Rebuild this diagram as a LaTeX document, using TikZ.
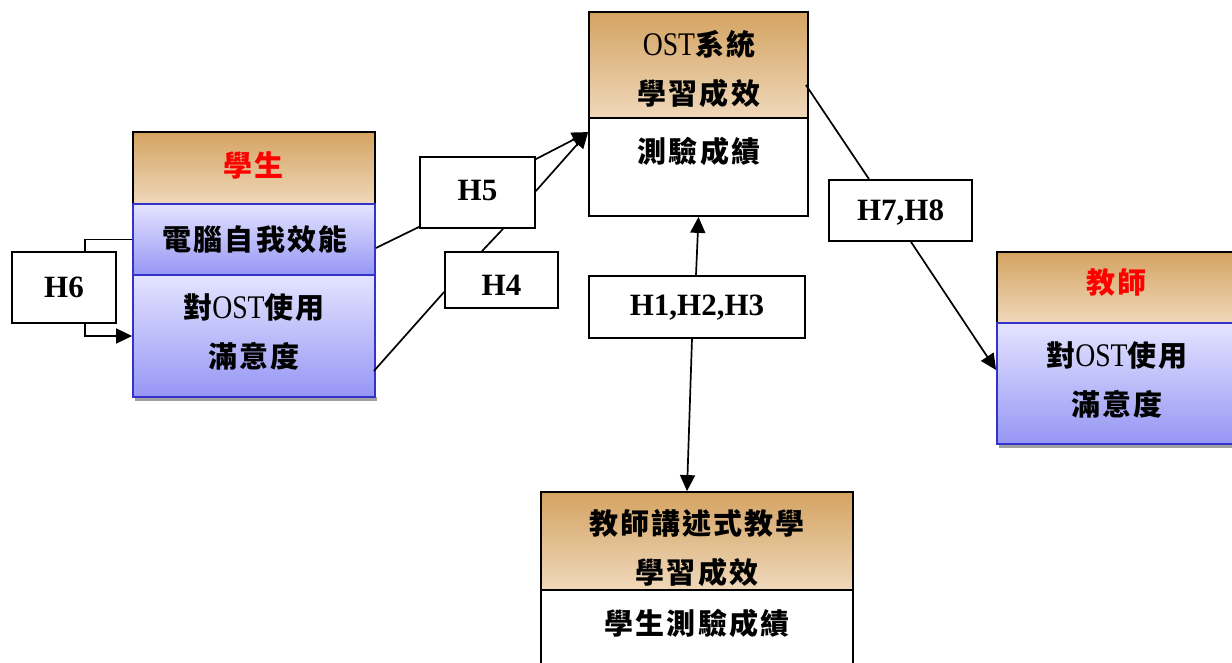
\documentclass[tikz,border=0pt]{standalone}
\usepackage{fontspec}
\setmainfont{Liberation Serif}
\newfontfamily\cjk[LetterSpace=7]{Noto Sans CJK TC}
\usetikzlibrary{arrows.meta,calc}
\definecolor{hdtop}{RGB}{212,163,98}
\definecolor{hdbot}{RGB}{239,216,186}
\definecolor{bltop}{RGB}{228,228,255}
\definecolor{blbot}{RGB}{150,150,245}
\definecolor{blborder}{RGB}{51,51,204}
\definecolor{shadowgray}{RGB}{160,160,160}
\newcommand{\ost}{{\rmfamily\mdseries\fontsize{33}{48}\selectfont\scalebox{0.84}[1]{OST}}}
\newcommand{\shiftlbl}[2]{\raisebox{#1}[\height][\depth]{#2}}
\tikzset{
  cjkfont/.style={font=\cjk\bfseries\fontsize{29}{49}\selectfont},
  hdrbox/.style={rectangle, draw=black, line width=1.8pt, inner sep=0pt,
    top color=hdtop, bottom color=hdbot},
  blbox/.style={rectangle, draw=blborder, line width=1.8pt, inner sep=0pt,
    top color=bltop, bottom color=blbot},
  whbox/.style={rectangle, draw=black, line width=1.8pt, inner sep=0pt, fill=white},
  hbox/.style={rectangle, draw=black, line width=1.8pt, inner sep=0pt, fill=white,
    font=\bfseries\fontsize{31}{36}\selectfont},
  lbl/.style={cjkfont, inner sep=0pt, align=center},
  conn/.style={line width=1.7pt},
  arr/.style={conn, -{Triangle[length=16pt,width=15pt]}}
}
\begin{document}
\begin{tikzpicture}[x=1pt,y=-1pt]
\useasboundingbox (0,0) rectangle (1232,663);
% shadows
\fill[shadowgray] (135,397) rectangle (377,401);
\fill[shadowgray] (999,444) rectangle (1232,448);
% student
\node[hdrbox, minimum width=242, minimum height=72] (stuH) at (254,168) {};
\node[blbox, minimum width=242, minimum height=71] (stuA) at (254,239.5) {};
\node[blbox, minimum width=242, minimum height=122] (stuB) at (254,336) {};
\node[lbl, text=red] (stuHt) at (254,165) {學生};
\node[lbl] (stuAt) at (255,239) {電腦自我效能};
\node[lbl] (stuBt) at (254,331.5) {對\ost 使用\\滿意度};
% OST
\node[hdrbox, minimum width=219, minimum height=106] (ostH) at (698.5,65) {};
\node[whbox, minimum width=219, minimum height=98] (ostB) at (698.5,167) {};
\node[lbl] (ostHt) at (699,69) {\ost 系統\\學習成效};
\node[lbl] (ostT) at (699,151) {測驗成績};
% teacher
\node[hdrbox, minimum width=240, minimum height=71] (teaH) at (1117,287.5) {};
\node[blbox, minimum width=240, minimum height=121] (teaB) at (1117,383.5) {};
\node[lbl, text=red] (teaHt) at (1117,283) {教師};
\node[lbl] (teaBt) at (1117,380) {對\ost 使用\\滿意度};
% bottom
\node[hdrbox, minimum width=312, minimum height=98] (botH) at (697,541) {};
\node[whbox, minimum width=312, minimum height=90] (botB) at (697,635) {};
\node[lbl] (botHt) at (697,548.5) {教師講述式教學\\學習成效};
\node[lbl] (botT) at (697,623) {學生測驗成績};
% H boxes
\node[hbox, minimum width=115, minimum height=71] (h5) at (477.5,192.5) {\shiftlbl{2pt}{H5}};
\node[hbox, minimum width=113, minimum height=56] (h4) at (501.5,280) {\shiftlbl{-5pt}{H4}};
\node[hbox, minimum width=104, minimum height=71] (h6) at (64,287.5) {H6};
\node[hbox, minimum width=216, minimum height=62] (h123) at (697,307) {\shiftlbl{-1pt}{H1,H2,H3}};
\node[hbox, minimum width=143, minimum height=61] (h78) at (900.5,210.5) {\shiftlbl{-2pt}{H7,H8}};
% connectors
\draw[conn] ($(stuA.east)+(0,8.5)$) -- ($(h5.south west)+(0,-2)$);
\draw[arr] ($(h5.north east)+(0,3)$) -- ($(ostB.north west)+(0,15)$);
\draw[conn] ($(stuB.east)+(-2,35)$) -- ($(h4.west)+(0,12)$);
\draw[conn] ($(h4.north)+(-19.5,0)$) -- ($(h5.south)+(25.5,0)$);
\draw[arr] ($(h5.east)+(0,-1.5)$) -- ($(ostB.north west)+(0,15)$);
\draw[conn] (stuA.west) -| ($(h6.north)+(21,0)$);
\draw[arr] ($(h6.south)+(21,0)$) |- (stuB.west);
\draw[arr] ($(h123.north)+(-1,0)$) -- (ostB.south);
\draw[arr] ($(h123.south)+(-5,0)$) -- ($(botH.north)+(-10,0)$);
\draw[conn] ($(ostH.east)+(-3,20)$) -- ($(h78.north)+(-31.5,0)$);
\draw[arr] ($(h78.south)+(10.5,0)$) -- ($(teaB.west)+(0,-13.5)$);
\end{tikzpicture}
\end{document}
